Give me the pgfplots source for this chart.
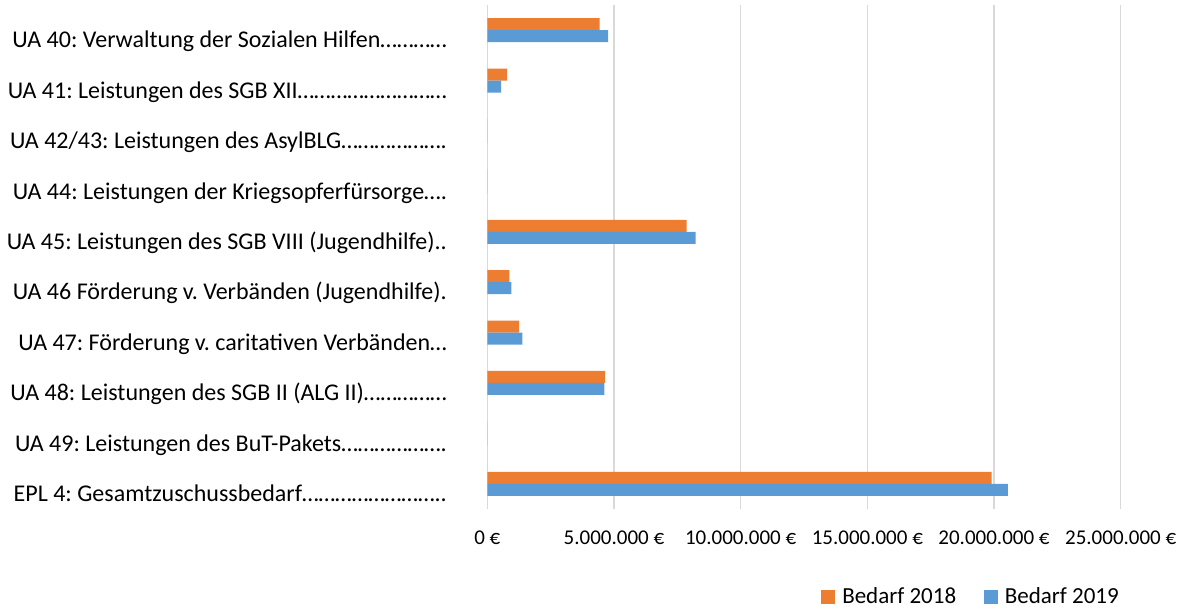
\documentclass[border=0pt]{standalone}
\usepackage{fontspec}
\setmainfont{Carlito}
\usepackage{pgfplots}
\pgfplotsset{compat=1.18}
\definecolor{orangeS}{HTML}{ED7D31}
\definecolor{blueS}{HTML}{5B9BD5}
\definecolor{gridG}{HTML}{D9D9D9}
\newcommand\FY{\fontsize{24bp}{28bp}\selectfont\frenchspacing}
\newcommand\FX{\fontsize{21bp}{25bp}\selectfont}
\newcommand\FL{\fontsize{23bp}{27bp}\selectfont}
\begin{document}
\frenchspacing
\begin{tikzpicture}
\path[use as bounding box] (0,0) rectangle (1186bp,609bp);
\begin{axis}[
  at={(487.3bp,100bp)}, anchor=south west,
  scale only axis, width=633.4bp, height=504bp,
  xmin=0, xmax=25000000, ymin=-0.5, ymax=9.5,
  xbar, bar width=12bp,
  xtick={0,5000000,10000000,15000000,20000000,25000000},
  xticklabels={0 €,5.000.000 €,10.000.000 €,15.000.000 €,20.000.000 €,25.000.000 €},
  scaled x ticks=false,
  ytick={0,1,2,3,4,5,6,7,8,9},
  yticklabels={
    EPL 4: Gesamtzuschussbedarf……………………..,
    UA 49: Leistungen des BuT-Pakets……………….,
    UA 48: Leistungen des SGB II (ALG II)……………,
    UA 47: Förderung v. caritativen Verbänden…,
    UA 46 Förderung v. Verbänden (Jugendhilfe).,
    UA 45: Leistungen des SGB VIII (Jugendhilfe)..,
    UA 44: Leistungen der Kriegsopferfürsorge….,
    UA 42/43: Leistungen des AsylBLG……………….,
    UA 41: Leistungen des SGB XII………………………,
    UA 40: Verwaltung der Sozialen Hilfen…………},
  xmajorgrids, ymajorgrids=false,
  major grid style={draw=gridG, line width=1.4bp},
  axis line style={draw=none},
  major tick length=0pt,
  xticklabel style={font=\FX, anchor=base, inner sep=0pt, yshift=-35.3bp},
  yticklabel style={font=\FY, anchor=base east, inner sep=0pt, xshift=-40.3bp, yshift=-17.7bp},
  legend columns=2,
  legend style={draw=none, font=\FL, inner sep=0pt, outer sep=0pt,
    at={(0.997,-0.174)}, anchor=east,
    nodes={inner sep=0pt},
    /tikz/every odd column/.append style={column sep=7bp},
    /tikz/every even column/.append style={column sep=27.7bp}},
  legend image code/.code={\fill[#1] (0bp,-7bp) rectangle (14bp,7bp);},
]
\addplot[fill=orangeS, draw=none, bar shift=6bp] coordinates {
  (19910000,0) (0,1) (4650000,2) (1260000,3) (870000,4)
  (7870000,5) (0,6) (0,7) (780000,8) (4430000,9)};
\addlegendentry{Bedarf 2018}
\addplot[fill=blueS, draw=none, bar shift=-6bp] coordinates {
  (20550000,0) (0,1) (4620000,2) (1380000,3) (950000,4)
  (8220000,5) (0,6) (0,7) (550000,8) (4770000,9)};
\addlegendentry{Bedarf 2019}
\end{axis}
\end{tikzpicture}
\end{document}
